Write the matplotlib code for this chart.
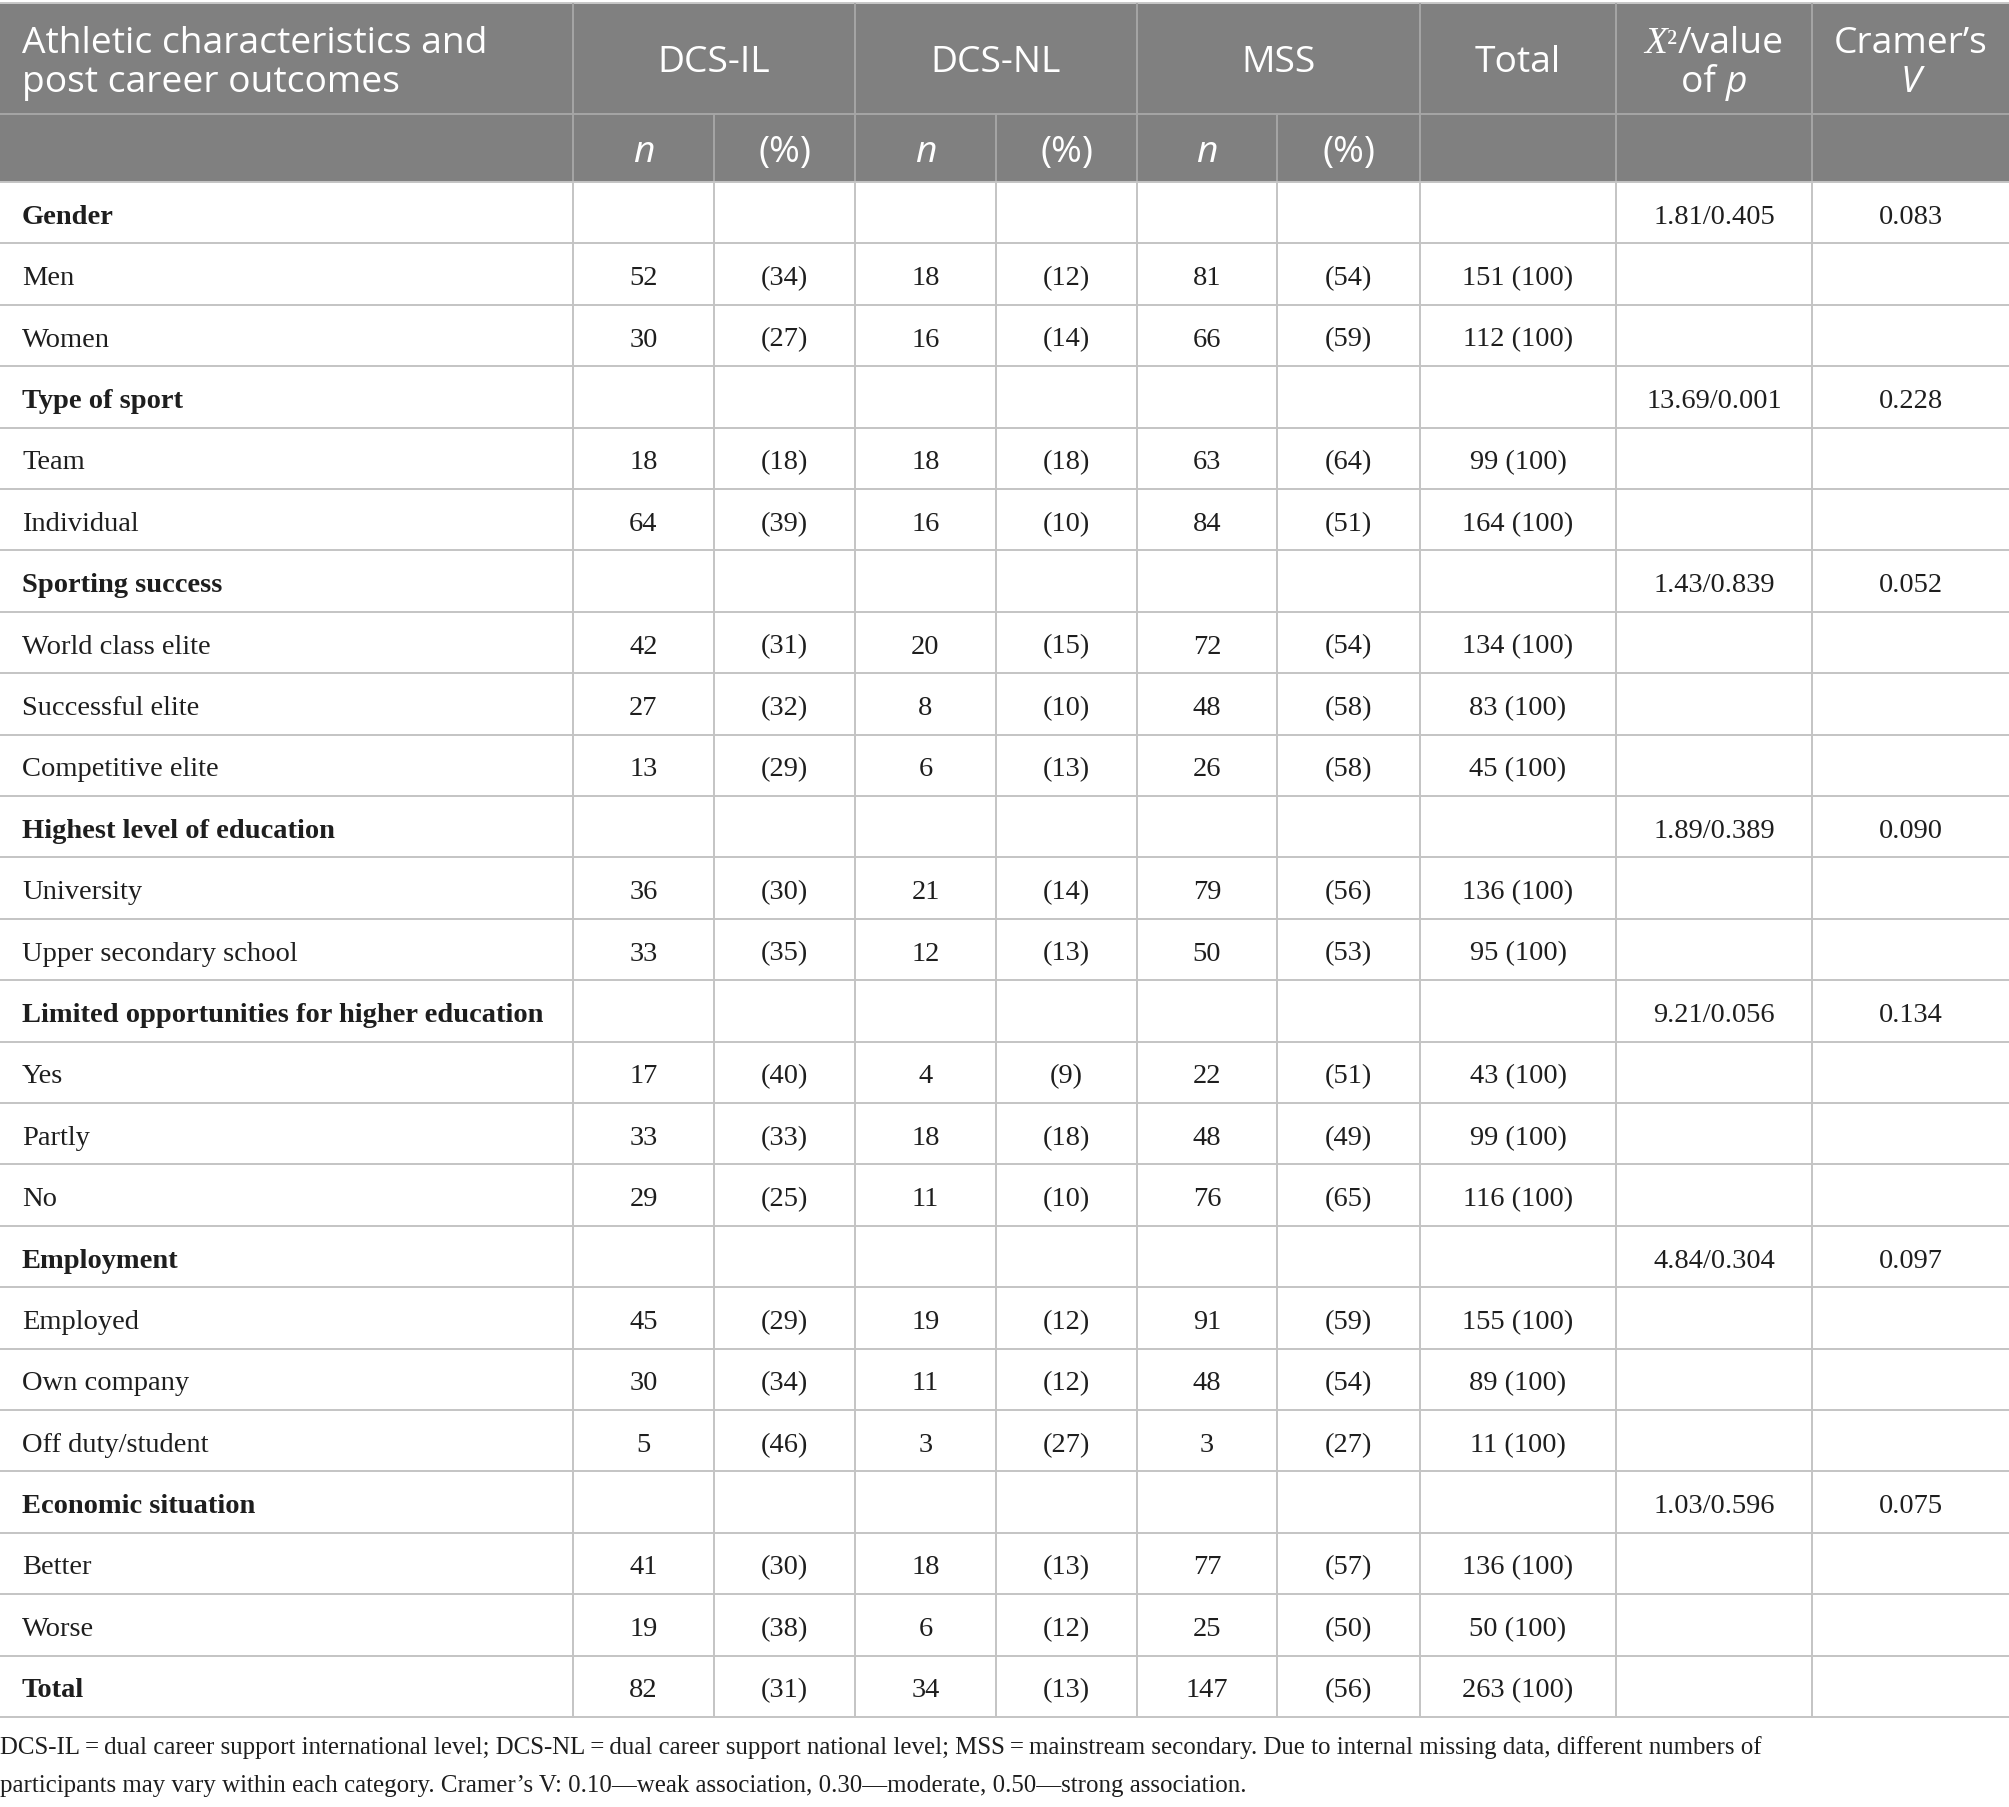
import matplotlib
matplotlib.use("Agg")
import matplotlib.pyplot as plt
from matplotlib.patches import Rectangle

# table content
labels = ["Gender", "Men", "Women", "Type of sport", "Team", "Individual",
          "Sporting success", "World class elite", "Successful elite", "Competitive elite",
          "Highest level of education", "University", "Upper secondary school",
          "Limited opportunities for higher education", "Yes", "Partly", "No",
          "Employment", "Employed", "Own company", "Off duty/student",
          "Economic situation", "Better", "Worse", "Total"]
headings = ["Gender", "Type of sport", "Sporting success", "Highest level of education",
            "Limited opportunities for higher education", "Employment",
            "Economic situation", "Total"]

dcs_il_n = ["", "52", "30", "", "18", "64", "", "42", "27", "13", "", "36", "33",
            "", "17", "33", "29", "", "45", "30", "5", "", "41", "19", "82"]
dcs_il_pct = ["", "(34)", "(27)", "", "(18)", "(39)", "", "(31)", "(32)", "(29)", "", "(30)", "(35)",
              "", "(40)", "(33)", "(25)", "", "(29)", "(34)", "(46)", "", "(30)", "(38)", "(31)"]
dcs_nl_n = ["", "18", "16", "", "18", "16", "", "20", "8", "6", "", "21", "12",
            "", "4", "18", "11", "", "19", "11", "3", "", "18", "6", "34"]
dcs_nl_pct = ["", "(12)", "(14)", "", "(18)", "(10)", "", "(15)", "(10)", "(13)", "", "(14)", "(13)",
              "", "(9)", "(18)", "(10)", "", "(12)", "(12)", "(27)", "", "(13)", "(12)", "(13)"]
mss_n = ["", "81", "66", "", "63", "84", "", "72", "48", "26", "", "79", "50",
         "", "22", "48", "76", "", "91", "48", "3", "", "77", "25", "147"]
mss_pct = ["", "(54)", "(59)", "", "(64)", "(51)", "", "(54)", "(58)", "(58)", "", "(56)", "(53)",
           "", "(51)", "(49)", "(65)", "", "(59)", "(54)", "(27)", "", "(57)", "(50)", "(56)"]
total = ["", "151 (100)", "112 (100)", "", "99 (100)", "164 (100)", "", "134 (100)", "83 (100)",
         "45 (100)", "", "136 (100)", "95 (100)", "", "43 (100)", "99 (100)", "116 (100)", "",
         "155 (100)", "89 (100)", "11 (100)", "", "136 (100)", "50 (100)", "263 (100)"]
chi_p = ["1.81/0.405", "", "", "13.69/0.001", "", "", "1.43/0.839", "", "", "",
         "1.89/0.389", "", "", "9.21/0.056", "", "", "", "4.84/0.304", "", "", "",
         "1.03/0.596", "", "", ""]
cramer_v = ["0.083", "", "", "0.228", "", "", "0.052", "", "", "", "0.090", "", "",
            "0.134", "", "", "", "0.097", "", "", "", "0.075", "", "", ""]

groups = ["DCS-IL", "DCS-NL", "MSS"]
footnote = ["DCS-IL\u2009=\u2009dual career support international level; DCS-NL\u2009=\u2009dual career "
            "support national level; MSS\u2009=\u2009mainstream secondary. Due to internal missing data, "
            "different numbers of",
            "participants may vary within each category. Cramer\u2019s V: 0.10\u2014weak association, "
            "0.30\u2014moderate, 0.50\u2014strong association."]

# layout in pixels
W, H = 2009, 1807
xs = [0, 573, 714, 855, 996, 1137, 1277, 1420, 1616, 1812, 2009]
y_top, y_h1, y_h2 = 3, 114, 182
row_h = 61.4
n_rows = len(labels)
y_bot = y_h2 + n_rows * row_h

header_bg = "#808080"
header_line = "#a6a6a6"
body_line = "#c4c4c4"
ink = "#1e1e1e"
serif = ["Liberation Serif", "DejaVu Serif"]
sans = ["Open Sans", "DejaVu Sans"]
hsize = 26.8
bsize = 20.5
fsize = 17.9

fig = plt.figure(figsize=(W / 100, H / 100), dpi=100)
ax = fig.add_axes([0, 0, 1, 1])
ax.set_xlim(0, W)
ax.set_ylim(H, 0)
ax.axis("off")

# header background
ax.add_patch(Rectangle((0, y_top), W, y_h2 - y_top, color=header_bg, lw=0))
ax.hlines([y_top], 0, W, color="#c8c8c8", lw=1.4)
ax.hlines([y_h1], 0, W, color=header_line, lw=1.4)
ax.vlines([xs[1], xs[3], xs[5], xs[7], xs[8], xs[9]], y_top, y_h1, color=header_line, lw=1.4)
ax.vlines(xs[1:-1], y_h1, y_h2, color=header_line, lw=1.4)

# body grid
row_edges = [y_h2 + i * row_h for i in range(n_rows + 1)]
ax.hlines(row_edges, 0, W, color=body_line, lw=1.4)
ax.vlines(xs[1:-1], y_h2, y_bot, color=body_line, lw=1.4)


def runs_centered(xc, y, runs):
    # draw pieces of text side by side, centred on xc
    r = fig.canvas.get_renderer()
    objs = []
    for s, kw in runs:
        t = ax.text(0, y, s, va="baseline", ha="left", **kw)
        objs.append(t)
    widths = [t.get_window_extent(r).width for t in objs]
    x = xc - sum(widths) / 2
    for t, w in zip(objs, widths):
        t.set_x(x)
        x += w


hkw = dict(color="white", fontsize=hsize, family=sans)

# header row 1
ax.text(22, 53, "Athletic characteristics and", ha="left", va="baseline", **hkw)
ax.text(22, 92, "post career outcomes", ha="left", va="baseline", **hkw)
for g, name in enumerate(groups):
    xc = (xs[1 + 2 * g] + xs[3 + 2 * g]) / 2
    ax.text(xc, 72, name, ha="center", va="baseline", **hkw)
ax.text((xs[7] + xs[8]) / 2, 72, "Total", ha="center", va="baseline", **hkw)

xc = (xs[8] + xs[9]) / 2
runs_centered(xc, 53, [("X", dict(color="white", fontsize=hsize, family=serif, style="italic")),
                       ("\u00b2", dict(color="white", fontsize=hsize * 0.9, family=serif)),
                       ("/value", hkw)])
runs_centered(xc, 92, [("of ", hkw), ("p", dict(hkw, style="italic"))])
xc = (xs[9] + xs[10]) / 2
ax.text(xc, 53, "Cramer\u2019s", ha="center", va="baseline", **hkw)
ax.text(xc, 92, "V", ha="center", va="baseline", style="italic", **hkw)

# header row 2
for c in range(6):
    xc = (xs[1 + c] + xs[2 + c]) / 2
    if c % 2 == 0:
        ax.text(xc, 162, "n", ha="center", va="baseline", style="italic", **hkw)
    else:
        ax.text(xc, 162, "(%)", ha="center", va="baseline", **hkw)

# body
cols = [dcs_il_n, dcs_il_pct, dcs_nl_n, dcs_nl_pct, mss_n, mss_pct, total, chi_p, cramer_v]
for i, lab in enumerate(labels):
    yb = y_h2 + (i + 0.5) * row_h + 11
    ax.text(22, yb, lab, ha="left", va="baseline", fontsize=bsize, family=serif,
            weight="bold" if lab in headings else "normal", color=ink)
    for c, vals in enumerate(cols):
        if vals[i]:
            ax.text((xs[1 + c] + xs[2 + c]) / 2, yb, vals[i], ha="center", va="baseline",
                    fontsize=bsize, family=serif, color=ink)

# footnote
ax.text(0, 1754, footnote[0], ha="left", va="baseline", fontsize=fsize, family=serif, color=ink)
ax.text(0, 1792, footnote[1], ha="left", va="baseline", fontsize=fsize, family=serif, color=ink)

fig.savefig("out.png", dpi=100, facecolor="white")
